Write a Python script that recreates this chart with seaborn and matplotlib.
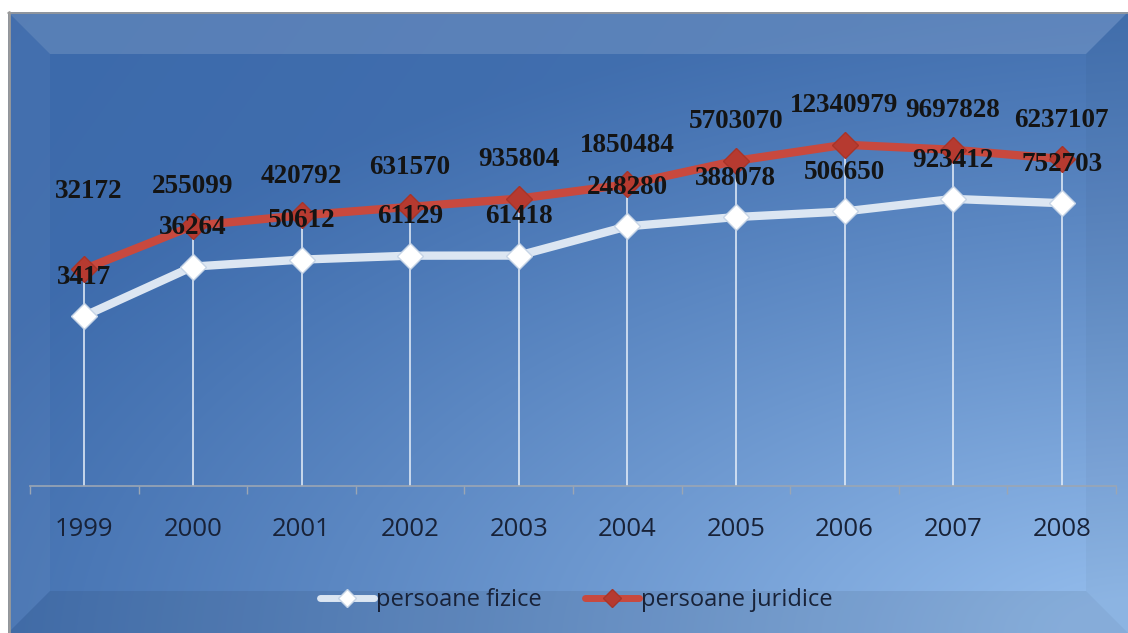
import numpy as np
import pandas as pd
import matplotlib
matplotlib.use("Agg")
import matplotlib.pyplot as plt
from matplotlib.patches import Polygon
from matplotlib.lines import Line2D
import seaborn as sns

# ---- data ----
years = ["1999", "2000", "2001", "2002", "2003", "2004", "2005", "2006", "2007", "2008"]
fizice = [3417, 36264, 50612, 61129, 61418, 248280, 388078, 506650, 923412, 752703]
juridice = [32172, 255099, 420792, 631570, 935804, 1850484, 5703070, 12340979, 9697828, 6237107]
series_names = ["persoane fizice", "persoane juridice"]

sns.set_theme(style="white")
plt.rcParams["font.family"] = ["Open Sans", "DejaVu Sans"]

W, H = 1128, 633
fig = plt.figure(figsize=(W / 100, H / 100), dpi=100)
fig.patch.set_facecolor("white")

# ---- background with gradient and bevel ----
bg = fig.add_axes([0, 0, 1, 1])
bg.set_xlim(0, W)
bg.set_ylim(H, 0)
bg.axis("off")
x0, y0, x1, y1 = 8, 12, W, H
xx, yy = np.meshgrid(np.linspace(0, 1, 400), np.linspace(0, 1, 240))
d = np.sqrt(((1 - xx) / 1.15) ** 2 + ((1 - yy) / 1.0) ** 2)
t = np.clip(1 - d, 0, 1) ** 1.15 * 0.92 + 0.10 * xx + 0.04 * yy
t = np.clip(t, 0, 1)
c0 = np.array([0.235, 0.415, 0.67])
c1 = np.array([0.57, 0.73, 0.92])
img = c0[None, None, :] + (c1 - c0)[None, None, :] * t[:, :, None]
bg.imshow(img, extent=[x0, x1, y1, y0], aspect="auto", zorder=0, interpolation="bilinear")
bw = 42
bev = [
    ([(x0, y0), (x1, y0), (x1 - bw, y0 + bw), (x0 + bw, y0 + bw)], "white", 0.14),
    ([(x0, y0), (x0 + bw, y0 + bw), (x0 + bw, y1 - bw), (x0, y1)], "white", 0.04),
    ([(x0, y1), (x0 + bw, y1 - bw), (x1 - bw, y1 - bw), (x1, y1)], "black", 0.07),
    ([(x1, y0), (x1, y1), (x1 - bw, y1 - bw), (x1 - bw, y0 + bw)], "black", 0.03),
]
for pts, col, a in bev:
    bg.add_patch(Polygon(pts, closed=True, facecolor=col, alpha=a, edgecolor="none", zorder=1))
bg.plot([x0 + 1, x0 + 1], [y0, y1], color="#9a9a9a", lw=2, zorder=2)
bg.plot([x0, x1], [y0 + 0.5, y0 + 0.5], color="#9a9a9a", lw=1.2, zorder=2)

# ---- main axes ----
left, right, top, bottom = 30, 1116, 101, 486
ax = fig.add_axes([left / W, 1 - bottom / H, (right - left) / W, (bottom - top) / H])
ax.patch.set_alpha(0)

pos = np.arange(len(years))
df_f = pd.DataFrame({"pos": pos, "value": fizice})
df_j = pd.DataFrame({"pos": pos, "value": juridice})

tops = np.maximum(fizice, juridice)
ax.vlines(pos, 1, tops, color="#e8f0fa", lw=1.1, zorder=1)

sns.lineplot(data=df_f, x="pos", y="value", ax=ax, color="#dce6f2", lw=6,
             marker="D", markersize=13, markerfacecolor="white",
             markeredgecolor="#c6d4e6", markeredgewidth=1, zorder=3)
sns.lineplot(data=df_j, x="pos", y="value", ax=ax, color="#c8493e", lw=6,
             marker="D", markersize=13, markerfacecolor="#b63a30",
             markeredgecolor="#a83428", markeredgewidth=1, zorder=4)

ax.set_yscale("log")
ax.set_ylim(1, 1e8)
ax.set_xlim(-0.5, len(years) - 0.5)

# data labels
label_font = dict(family=["Liberation Serif", "DejaVu Serif"], fontsize=19.5,
                  fontweight="bold", color="#141414", ha="center", va="center", zorder=6)
j_offsets = [56] + [28] * (len(years) - 1)
for i in pos:
    ax.annotate(str(fizice[i]), (i, fizice[i]), xytext=(0, 28),
                textcoords="offset points", **label_font)
    ax.annotate(str(juridice[i]), (i, juridice[i]), xytext=(3 if i == 0 else 0, j_offsets[i]),
                textcoords="offset points", **label_font)

# axes styling
ax.yaxis.set_visible(False)
for s in ["left", "right", "top"]:
    ax.spines[s].set_visible(False)
ax.spines["bottom"].set_color("#9ba6b4")
ax.spines["bottom"].set_linewidth(1.2)
ax.set_xticks(pos)
ax.set_xticklabels(years)
ax.set_xticks(np.arange(-0.5, len(years), 1), minor=True)
ax.tick_params(axis="x", which="both", bottom=True)
ax.tick_params(axis="x", which="major", length=0, pad=22, labelsize=18.5, labelcolor="#182238")
ax.tick_params(axis="x", which="minor", length=6, width=1, color="#9ba6b4", direction="out")
ax.set_xlabel("")
ax.set_ylabel("")
if ax.get_legend() is not None:
    ax.get_legend().remove()

# legend
handles = [
    Line2D([0], [0], color="#dce6f2", lw=5, marker="D", markersize=9,
           markerfacecolor="white", markeredgecolor="#c6d4e6"),
    Line2D([0], [0], color="#c8493e", lw=5, marker="D", markersize=9,
           markerfacecolor="#b63a30", markeredgecolor="#a83428"),
]
leg = fig.legend(handles, series_names, loc="center", bbox_to_anchor=(0.511, 1 - 600 / H),
                 ncol=2, frameon=False, fontsize=17, handlelength=2.3, handletextpad=0.1,
                 columnspacing=1.8)
for txt in leg.get_texts():
    txt.set_color("#182238")

fig.savefig("out.png", dpi=100)
